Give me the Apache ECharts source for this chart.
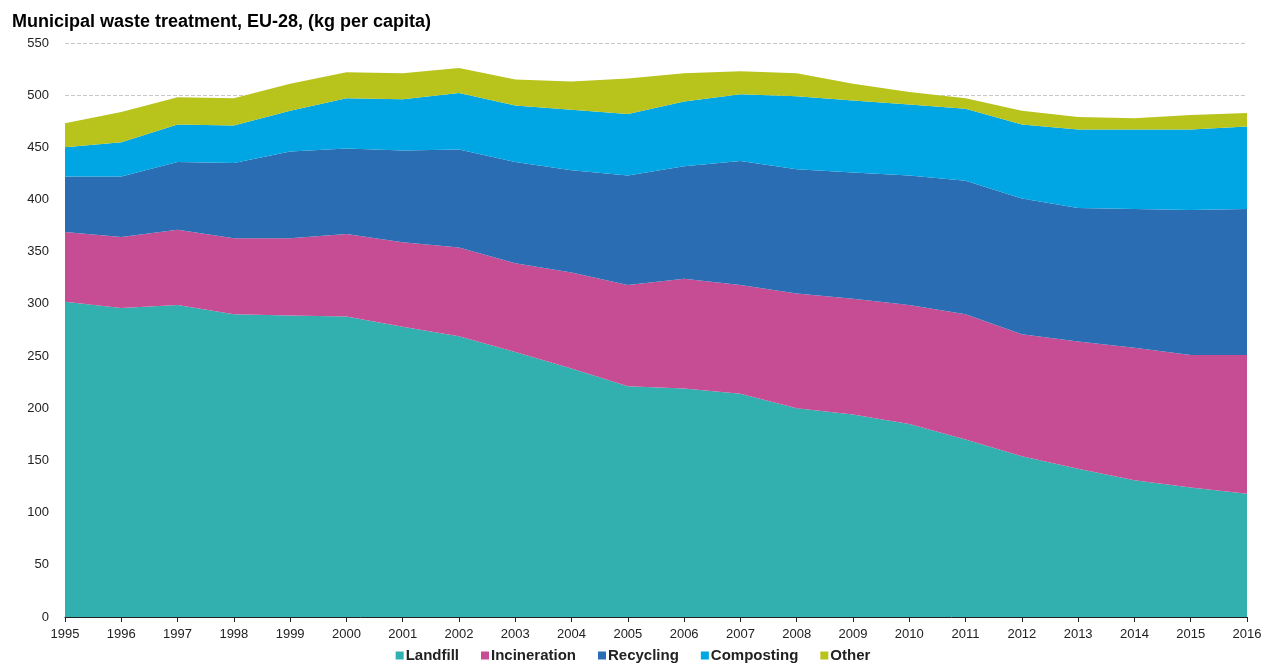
<!DOCTYPE html>
<html>
<head>
<meta charset="utf-8">
<script src="https://cdn.jsdelivr.net/npm/echarts@6/dist/echarts.min.js"></script>
<style>
html, body { margin: 0; padding: 0; background: #fff; }
#chart { width: 1266px; height: 664px; }
</style>
</head>
<body>
<div id="chart"></div>
<script type="text/javascript">
var years = ['1995', '1996', '1997', '1998', '1999', '2000', '2001', '2002', '2003', '2004', '2005',
    '2006', '2007', '2008', '2009', '2010', '2011', '2012', '2013', '2014', '2015', '2016'];

// kg per capita, stacked
var landfill     = [302, 296, 299, 290, 289, 288, 278, 269, 254, 238, 221, 219, 214, 200, 194, 185, 170, 154, 142, 131, 124, 118];
var incineration = [67, 68, 72, 73, 74, 79, 81, 85, 85, 92, 97, 105, 104, 110, 111, 114, 120, 117, 122, 127, 127, 133];
var recycling    = [53, 58, 65, 72, 83, 82, 88, 94, 97, 98, 105, 108, 119, 119, 121, 124, 128, 130, 128, 133, 139, 140];
var composting   = [28, 33, 36, 36, 39, 48, 49, 54, 54, 58, 59, 62, 64, 70, 69, 68, 69, 71, 75, 76, 77, 79];
var other        = [23, 29, 26, 26, 26, 25, 25, 24, 25, 27, 34, 27, 22, 22, 16, 12, 10, 13, 12, 11, 14, 13];

var seriesNames = ['Landfill', 'Incineration', 'Recycling', 'Composting', 'Other'];
var seriesColors = ['#32b0af', '#c64c93', '#2a6db3', '#00a5e3', '#b8c31c'];
var seriesData = [landfill, incineration, recycling, composting, other];

var myChart = echarts.init(document.getElementById('chart'));

var series = [];
for (var i = 0; i < seriesNames.length; i++) {
    series.push({
        name: seriesNames[i],
        type: 'line',
        stack: 'total',
        symbol: 'none',
        lineStyle: { width: 0 },
        areaStyle: { color: seriesColors[i], opacity: 1 },
        itemStyle: { color: seriesColors[i] },
        data: seriesData[i]
    });
}

var option = {
    animation: false,
    title: {
        text: 'Municipal waste treatment, EU-28, (kg per capita)',
        left: 7,
        top: 8,
        textStyle: { fontFamily: 'Liberation Sans, Arial, sans-serif', fontSize: 18, fontWeight: 'bold', color: '#000' }
    },
    legend: {
        bottom: -4,
        left: 'center',
        itemWidth: 8,
        itemHeight: 8,
        itemGap: 22,
        icon: 'rect',
        textStyle: { fontFamily: 'Liberation Sans, Arial, sans-serif', fontSize: 15, fontWeight: 'bold', color: '#222', padding: [0, 0, 0, -3] },
        data: seriesNames
    },
    grid: { left: 65, right: 19, top: 43, bottom: 47 },
    xAxis: {
        type: 'category',
        boundaryGap: false,
        data: years,
        axisLine: { lineStyle: { color: '#222', width: 1 } },
        axisTick: { show: true, length: 5, lineStyle: { color: '#222' } },
        axisLabel: { color: '#222', fontSize: 13, margin: 11, fontFamily: 'Liberation Sans, Arial, sans-serif', interval: 0 }
    },
    yAxis: {
        type: 'value',
        min: 0,
        max: 550,
        interval: 50,
        axisLine: { show: false },
        axisTick: { show: false },
        axisLabel: { color: '#222', fontSize: 13, margin: 16, fontFamily: 'Liberation Sans, Arial, sans-serif' },
        splitLine: { lineStyle: { color: '#c8c8c8', type: 'dashed', width: 1 } }
    },
    series: series
};

if (option && typeof option === "object") {
    myChart.setOption(option, true);
}
</script>
</body>
</html>
